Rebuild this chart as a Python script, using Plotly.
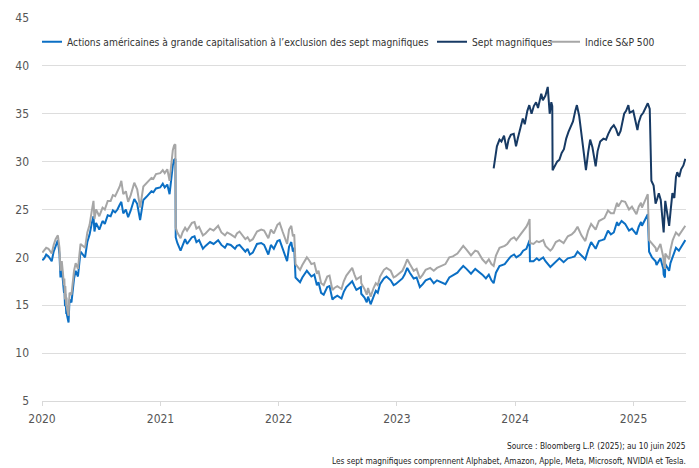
import plotly.graph_objects as go

# ---- data ----
broad_dates = [
    "2020-01-02", "2020-01-08", "2020-01-14", "2020-01-21", "2020-01-27", "2020-01-31",
    "2020-02-06", "2020-02-12", "2020-02-19", "2020-02-24", "2020-02-27", "2020-03-02",
    "2020-03-05", "2020-03-09", "2020-03-10", "2020-03-12", "2020-03-13", "2020-03-16",
    "2020-03-17", "2020-03-18", "2020-03-23", "2020-03-24", "2020-03-26", "2020-04-01",
    "2020-04-06", "2020-04-09", "2020-04-14", "2020-04-21", "2020-04-29", "2020-05-05",
    "2020-05-13", "2020-05-20", "2020-05-27", "2020-06-03", "2020-06-08", "2020-06-11",
    "2020-06-16", "2020-06-26", "2020-07-06", "2020-07-13", "2020-07-22", "2020-07-31",
    "2020-08-07", "2020-08-14", "2020-08-21", "2020-08-28", "2020-09-02", "2020-09-08",
    "2020-09-16", "2020-09-23", "2020-10-01", "2020-10-12", "2020-10-21", "2020-10-30",
    "2020-11-09", "2020-11-18", "2020-11-25", "2020-12-04", "2020-12-10", "2020-12-18",
    "2020-12-31", "2021-01-08", "2021-01-14", "2021-01-22", "2021-01-29", "2021-02-03",
    "2021-02-08", "2021-02-12", "2021-02-16", "2021-02-17", "2021-02-22", "2021-03-04",
    "2021-03-10", "2021-03-18", "2021-03-24", "2021-04-08", "2021-04-16", "2021-04-22",
    "2021-04-30", "2021-05-12", "2021-05-20", "2021-06-03", "2021-06-14", "2021-06-28",
    "2021-07-08", "2021-07-19", "2021-07-26", "2021-08-06", "2021-08-19", "2021-08-25",
    "2021-09-02", "2021-09-20", "2021-09-27", "2021-10-04", "2021-10-13", "2021-10-26",
    "2021-11-08", "2021-11-17", "2021-11-30", "2021-12-08", "2021-12-17", "2021-12-28",
    "2022-01-04", "2022-01-13", "2022-01-24", "2022-01-27", "2022-02-02", "2022-02-09",
    "2022-02-14", "2022-02-18", "2022-02-22", "2022-03-08", "2022-03-15", "2022-03-29",
    "2022-04-05", "2022-04-12", "2022-04-21", "2022-04-29", "2022-05-04", "2022-05-12",
    "2022-05-20", "2022-05-31", "2022-06-07", "2022-06-16", "2022-06-22", "2022-07-01",
    "2022-07-14", "2022-07-21", "2022-07-29", "2022-08-16", "2022-08-23", "2022-08-29",
    "2022-09-12", "2022-09-13", "2022-09-23", "2022-09-30", "2022-10-04", "2022-10-12",
    "2022-10-21", "2022-10-28", "2022-11-03", "2022-11-10", "2022-11-22", "2022-11-30",
    "2022-12-13", "2022-12-22", "2022-12-28", "2023-01-09", "2023-01-18", "2023-01-25",
    "2023-02-02", "2023-02-10", "2023-02-22", "2023-03-03", "2023-03-13", "2023-03-22",
    "2023-03-31", "2023-04-14", "2023-04-25", "2023-05-05", "2023-05-17", "2023-05-31",
    "2023-06-12", "2023-06-23", "2023-07-07", "2023-07-14", "2023-07-25", "2023-08-04",
    "2023-08-18", "2023-08-31", "2023-09-08", "2023-09-22", "2023-10-03", "2023-10-12",
    "2023-10-20", "2023-10-27", "2023-11-03", "2023-11-14", "2023-11-30", "2023-12-08",
    "2023-12-19", "2023-12-29", "2024-01-05", "2024-01-18", "2024-01-26", "2024-02-05",
    "2024-02-12", "2024-02-15", "2024-02-16", "2024-02-27", "2024-03-08", "2024-03-15",
    "2024-03-28", "2024-04-04", "2024-04-19", "2024-04-25", "2024-05-06", "2024-05-17",
    "2024-05-30", "2024-06-12", "2024-06-24", "2024-07-03", "2024-07-12", "2024-07-24",
    "2024-08-05", "2024-08-14", "2024-08-23", "2024-09-06", "2024-09-16", "2024-09-25",
    "2024-10-03", "2024-10-14", "2024-10-23", "2024-11-01", "2024-11-11", "2024-11-15",
    "2024-11-25", "2024-12-06", "2024-12-18", "2024-12-27", "2025-01-10", "2025-01-17",
    "2025-01-24", "2025-01-27", "2025-02-05", "2025-02-14", "2025-02-18", "2025-02-27",
    "2025-03-10", "2025-03-13", "2025-03-25", "2025-04-03", "2025-04-04", "2025-04-08",
    "2025-04-09", "2025-04-21", "2025-04-25", "2025-05-02", "2025-05-12", "2025-05-21",
    "2025-05-30", "2025-06-10",
]

ex_mag7 = [
    19.7, 19.9, 20.3, 20.1, 19.8, 19.6,
    20.6, 21.2, 21.8, 20.3, 17.9, 18.9,
    17.8, 16.3, 17.0, 14.9, 16.2, 14.1,
    15.0, 14.0, 13.2, 14.8, 15.6, 15.3,
    16.9, 17.8, 18.6, 18.0, 20.6, 20.3,
    20.0, 21.6, 22.4, 23.6, 24.3, 22.7,
    23.6, 22.9, 23.8, 23.5, 24.4, 24.3,
    24.9, 24.7, 25.0, 25.5, 25.8, 24.6,
    25.0, 24.2, 24.9, 26.1, 25.6, 23.9,
    26.0, 26.3, 26.6, 26.9, 26.8, 27.2,
    27.3, 27.7, 27.3, 27.6, 26.6, 28.4,
    29.6, 30.2, 30.3, 22.1, 21.5, 20.7,
    21.3, 21.9, 21.4, 22.1, 22.2, 21.6,
    21.8, 20.9, 21.2, 21.6, 21.4, 21.8,
    21.3, 21.0, 21.4, 21.3, 20.9, 21.2,
    21.3, 20.6, 20.9, 20.3, 20.5, 21.4,
    21.5, 21.3, 20.3, 21.3, 20.9, 21.7,
    21.8, 20.9, 19.9, 19.6, 21.1, 21.6,
    20.6, 21.0, 17.9, 17.4, 17.9, 18.6,
    18.3, 18.0, 18.2, 17.1, 17.4, 16.3,
    16.1, 16.9, 17.0, 15.6, 15.8, 16.0,
    15.7, 16.4, 16.9, 17.5, 17.0, 16.6,
    16.9, 16.2, 15.8, 15.3, 15.9, 15.1,
    15.9, 16.5, 16.3, 17.2, 17.8, 18.0,
    17.6, 17.1, 17.2, 17.6, 17.8, 18.2,
    18.9, 18.4, 17.8, 17.9, 16.9, 17.2,
    17.6, 17.8, 17.3, 17.6, 17.4, 17.2,
    17.9, 18.1, 18.4, 18.7, 19.1, 18.8,
    18.3, 18.8, 18.6, 18.2, 17.8, 18.2,
    17.6, 17.3, 18.4, 19.1, 19.3, 19.6,
    20.1, 20.3, 20.0, 20.3, 20.7, 20.9,
    21.5, 21.8, 19.6, 19.6, 19.9, 19.7,
    20.0, 19.6, 19.0, 19.2, 19.6, 19.9,
    19.5, 19.9, 20.0, 20.1, 20.6, 20.2,
    19.8, 20.8, 21.6, 20.9, 21.7, 21.8,
    21.9, 22.8, 22.4, 22.6, 23.7, 23.3,
    23.8, 23.5, 22.8, 23.0, 22.4, 23.2,
    23.7, 23.3, 23.9, 24.5, 20.6, 20.0,
    19.6, 19.2, 19.9, 18.8, 18.2, 17.9,
    19.3, 18.6, 19.4, 20.1, 21.0, 20.7,
    21.2, 21.8,
]

sp500 = [
    20.5, 20.7, 21.0, 20.9, 20.5, 20.4,
    21.3, 21.9, 22.3, 21.0, 18.6, 19.6,
    18.6, 17.1, 17.8, 15.6, 17.0, 14.9,
    15.8, 14.7, 13.9, 15.5, 16.3, 16.1,
    17.7, 18.6, 19.4, 18.8, 21.4, 21.2,
    21.0, 22.6, 23.4, 24.9, 25.9, 24.0,
    25.0, 24.3, 25.2, 25.0, 25.9, 25.9,
    26.5, 26.4, 26.9, 27.4, 28.0, 26.6,
    26.9, 25.8, 26.5, 27.8, 27.1, 25.2,
    27.4, 27.7, 28.0, 28.3, 28.2, 28.7,
    28.8, 29.1, 28.8, 29.2, 28.0, 29.9,
    31.2, 31.7, 31.8, 23.1, 22.6, 22.0,
    22.6, 23.1, 22.8, 23.6, 23.7, 23.0,
    23.2, 22.3, 22.5, 23.0, 22.8, 23.3,
    22.6, 22.3, 22.6, 22.4, 22.1, 22.5,
    22.7, 21.9, 22.1, 21.7, 21.9, 22.7,
    22.9, 22.8, 22.0, 22.9, 22.5, 23.4,
    23.6, 22.7, 21.8, 21.4, 22.9, 23.3,
    22.2, 22.4, 19.3, 18.7, 19.2, 20.0,
    19.7, 19.3, 19.4, 18.3, 18.6, 17.3,
    17.1, 18.0, 18.1, 16.6, 16.8, 17.0,
    16.7, 17.5, 18.1, 18.9, 18.2, 17.7,
    18.0, 17.3, 16.7, 16.1, 16.8, 15.9,
    16.8, 17.3, 17.1, 18.0, 18.7, 18.9,
    18.6, 17.9, 18.0, 18.4, 18.6, 19.1,
    19.8, 19.3, 18.6, 18.8, 17.8, 18.2,
    18.7, 18.9, 18.6, 18.9, 19.1, 19.3,
    20.0, 20.1, 20.4, 20.7, 21.2, 20.8,
    20.2, 20.7, 20.6, 19.8, 19.4, 19.8,
    19.3, 19.1, 20.2, 21.0, 21.2, 21.4,
    21.9, 22.1, 21.8, 22.4, 22.8, 23.2,
    23.7, 24.0, 21.5, 21.4, 21.7, 21.6,
    21.8, 21.2, 20.7, 20.9, 21.6, 21.8,
    21.5, 22.2, 22.4, 22.7, 23.2, 22.3,
    21.7, 22.8, 23.5, 22.9, 23.8, 24.0,
    24.1, 24.9, 24.6, 24.6, 25.7, 25.3,
    25.9, 25.8, 25.0, 25.3, 24.5, 25.3,
    25.7, 25.2, 25.9, 26.6, 21.8, 21.4,
    21.0, 20.6, 21.4, 20.0, 19.4, 18.8,
    20.4, 19.8, 20.8, 21.8, 22.6, 22.3,
    22.8, 23.3,
]

mag7_dates = [
    "2023-10-27", "2023-10-31", "2023-11-06", "2023-11-14", "2023-11-20", "2023-11-28",
    "2023-12-06", "2023-12-12", "2023-12-19", "2023-12-28", "2024-01-04", "2024-01-10",
    "2024-01-19", "2024-01-25", "2024-01-31", "2024-02-08", "2024-02-14", "2024-02-21",
    "2024-02-28", "2024-03-06", "2024-03-12", "2024-03-22", "2024-03-27", "2024-04-04",
    "2024-04-11", "2024-04-17", "2024-04-22", "2024-04-25", "2024-04-26", "2024-05-03",
    "2024-05-10", "2024-05-17", "2024-05-24", "2024-05-31", "2024-06-07", "2024-06-14",
    "2024-06-21", "2024-06-28", "2024-07-05", "2024-07-10", "2024-07-17", "2024-07-24",
    "2024-07-31", "2024-08-07", "2024-08-14", "2024-08-20", "2024-08-27", "2024-09-06",
    "2024-09-12", "2024-09-20", "2024-09-30", "2024-10-08", "2024-10-15", "2024-10-24",
    "2024-11-01", "2024-11-08", "2024-11-15", "2024-11-22", "2024-12-03", "2024-12-09",
    "2024-12-16", "2024-12-20", "2024-12-31", "2025-01-07", "2025-01-13", "2025-01-17",
    "2025-01-24", "2025-01-31", "2025-02-07", "2025-02-14", "2025-02-20", "2025-02-25",
    "2025-03-04", "2025-03-10", "2025-03-14", "2025-03-20", "2025-03-26", "2025-04-04",
    "2025-04-09", "2025-04-14", "2025-04-21", "2025-04-25", "2025-05-01", "2025-05-07",
    "2025-05-12", "2025-05-16", "2025-05-22", "2025-05-28", "2025-06-04", "2025-06-10",
]

mag7 = [
    29.3, 30.4, 31.6, 32.3, 32.1, 32.7,
    31.3, 32.3, 32.8, 32.9, 31.6, 32.5,
    33.9, 34.5, 33.9, 35.3, 35.9, 35.0,
    35.8, 36.2, 35.6, 37.1, 36.4, 36.9,
    37.8, 35.0, 36.2, 35.8, 29.1, 29.6,
    30.0, 30.2, 30.9, 31.3, 32.4, 33.1,
    33.7, 34.2, 35.3, 35.9, 34.8, 32.9,
    31.0, 29.1, 31.0, 32.3, 31.5, 29.5,
    31.1, 32.1, 32.4, 32.3, 32.9, 33.5,
    33.8, 33.4, 32.7, 33.2, 35.0, 35.3,
    35.9, 35.1, 35.3, 34.2, 33.3, 34.1,
    34.8, 35.1, 35.7, 36.1, 35.5, 28.0,
    27.5, 25.6, 26.0, 26.7, 26.0, 22.6,
    25.9, 24.6, 23.3, 24.7, 26.7, 26.2,
    28.4, 28.9, 28.4, 29.2, 29.6, 30.3,
]

series_names = [
    "Actions américaines à grande capitalisation à l’exclusion des sept magnifiques",
    "Sept magnifiques",
    "Indice S&P 500",
]
year_ticks = ["2020-01-01", "2021-01-01", "2022-01-01", "2023-01-01", "2024-01-01", "2025-01-01"]
year_labels = ["2020", "2021", "2022", "2023", "2024", "2025"]
y_ticks = [5, 10, 15, 20, 25, 30, 35, 40, 45]

FONT = "DejaVu Sans Condensed, Liberation Sans Narrow, sans-serif"

fig = go.Figure()
fig.add_trace(go.Scatter(x=broad_dates, y=ex_mag7, name=series_names[0], mode="lines",
                         line=dict(color="#0b6fc4", width=2), legendwidth=375))
fig.add_trace(go.Scatter(x=mag7_dates, y=mag7, name=series_names[1], mode="lines",
                         line=dict(color="#173a64", width=2), legendwidth=83))
fig.add_trace(go.Scatter(x=broad_dates, y=sp500, name=series_names[2], mode="lines",
                         line=dict(color="#a6a6a6", width=2), legendwidth=75))

fig.update_layout(
    width=699, height=468,
    margin=dict(l=42, r=13, t=17.5, b=67.3),
    paper_bgcolor="white", plot_bgcolor="white",
    font=dict(family=FONT, color="#555555", size=12),
    showlegend=True,
    legend=dict(orientation="h", x=0, xanchor="left", y=0.976, yanchor="top",
                indentation=-15,
                font=dict(size=10.2, color="#333333"), bgcolor="rgba(0,0,0,0)",
                traceorder="normal"),
    xaxis=dict(type="date", range=["2020-01-01", "2025-06-12"],
               tickvals=year_ticks, ticktext=year_labels,
               showgrid=False, showline=True, linecolor="#d9d9d9", linewidth=1,
               ticks="outside", ticklen=4, tickcolor="#d9d9d9",
               tickfont=dict(size=12, color="#555555"), ticklabelstandoff=3,
               zeroline=False),
    yaxis=dict(range=[5, 45], tickvals=y_ticks, showgrid=True, gridcolor="#dddddd",
               gridwidth=1, zeroline=False, showline=False, ticks="",
               tickfont=dict(size=12, color="#555555"), ticklabelstandoff=12),
    annotations=[
        dict(text="Source : Bloomberg L.P. (2025); au 10 juin 2025", xref="paper", yref="paper",
             x=1.003, y=-0.118, xanchor="right", yanchor="middle", showarrow=False,
             font=dict(size=8.3, color="#222222")),
        dict(text="Les sept magnifiques comprennent Alphabet, Amazon, Apple, Meta, Microsoft, NVIDIA et Tesla.",
             xref="paper", yref="paper", x=1.003, y=-0.157, xanchor="right", yanchor="middle",
             showarrow=False, font=dict(size=8.3, color="#222222")),
    ],
)

fig.write_html("out.html")
